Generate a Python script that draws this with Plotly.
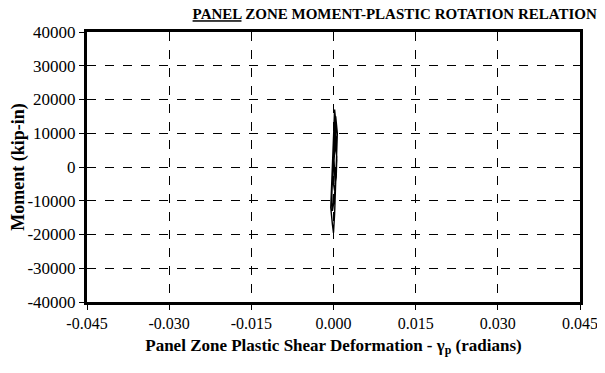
import plotly.graph_objects as go

# Panel zone plastic shear deformation (radians) and moment (kip-in)
rotation = [0.0000, 0.0003, 0.0005, 0.0002, 0.0000, -0.0002, -0.0004, -0.0005,
            -0.0002, 0.0000, 0.0002, 0.0003, 0.0004, 0.0006, 0.0007, 0.0004,
            0.0001, -0.0001, -0.0003, -0.0002, 0.0001, 0.0004, 0.0006, 0.0005,
            0.0002, 0.0000, -0.0001, 0.0002, 0.0005, 0.0006, 0.0003, 0.0001,
            0.0003, 0.0004]
moment = [0, 6000, 12000, 17000, 10000, 2000, -6000, -12000,
          -17000, -19500, -14000, -8000, -2000, 5000, 10000, 15000,
          8000, 0, -8000, -13000, -10000, -4000, 2000, 8000,
          12000, 4000, -4000, -7000, -3000, 3000, 7000, 2000,
          -5000, 0]

x_ticks = [-0.045, -0.030, -0.015, 0.000, 0.015, 0.030, 0.045]
x_labels = ["-0.045", "-0.030", "-0.015", "0.000", "0.015", "0.030", "0.045"]
y_ticks = [40000, 30000, 20000, 10000, 0, -10000, -20000, -30000, -40000]
y_labels = ["40000", "30000", "20000", "10000", "0", "-10000", "-20000", "-30000", "-40000"]

serif = "Liberation Serif"

fig = go.Figure()
fig.add_trace(go.Scatter(x=rotation, y=moment, mode="lines",
                         line=dict(color="black", width=1.4), showlegend=False))

fig.update_layout(
    width=590, height=352,
    margin=dict(l=79, r=18, t=24, b=58, autoexpand=False),
    paper_bgcolor="white", plot_bgcolor="white",
    title=dict(text="<b><u>PANEL</u> ZONE MOMENT-PLASTIC ROTATION RELATION</b>",
               x=0.998, xanchor="right", y=0.998, yanchor="top",
               font=dict(family=serif, size=15, color="black")),
    font=dict(family=serif, color="black"),
)
fig.update_xaxes(
    range=[-0.045, 0.045], tickvals=x_ticks, ticktext=x_labels,
    tickfont=dict(size=16, family=serif, color="black"),
    showline=True, linecolor="black", linewidth=3, mirror=True,
    ticks="outside", ticklen=5, tickcolor="black",
    showgrid=True, gridcolor="black", gridwidth=1, griddash="dash",
    zeroline=False, automargin=False,
    title=dict(text="<b>Panel Zone Plastic Shear Deformation - γ<sub>p</sub> (radians)</b>",
               font=dict(size=17, family=serif, color="black"), standoff=8),
)
fig.update_yaxes(
    range=[-40000, 40000], tickvals=y_ticks, ticktext=y_labels,
    tickfont=dict(size=17, family=serif, color="black"),
    showline=True, linecolor="black", linewidth=3, mirror=True,
    ticks="outside", ticklen=5, tickcolor="black",
    showgrid=True, gridcolor="black", gridwidth=1, griddash="dash",
    zeroline=False, automargin=False,
    title=dict(text="<b>Moment (kip-in)</b>",
               font=dict(size=18, family=serif, color="black"), standoff=4),
)

fig.write_html("out.html")
